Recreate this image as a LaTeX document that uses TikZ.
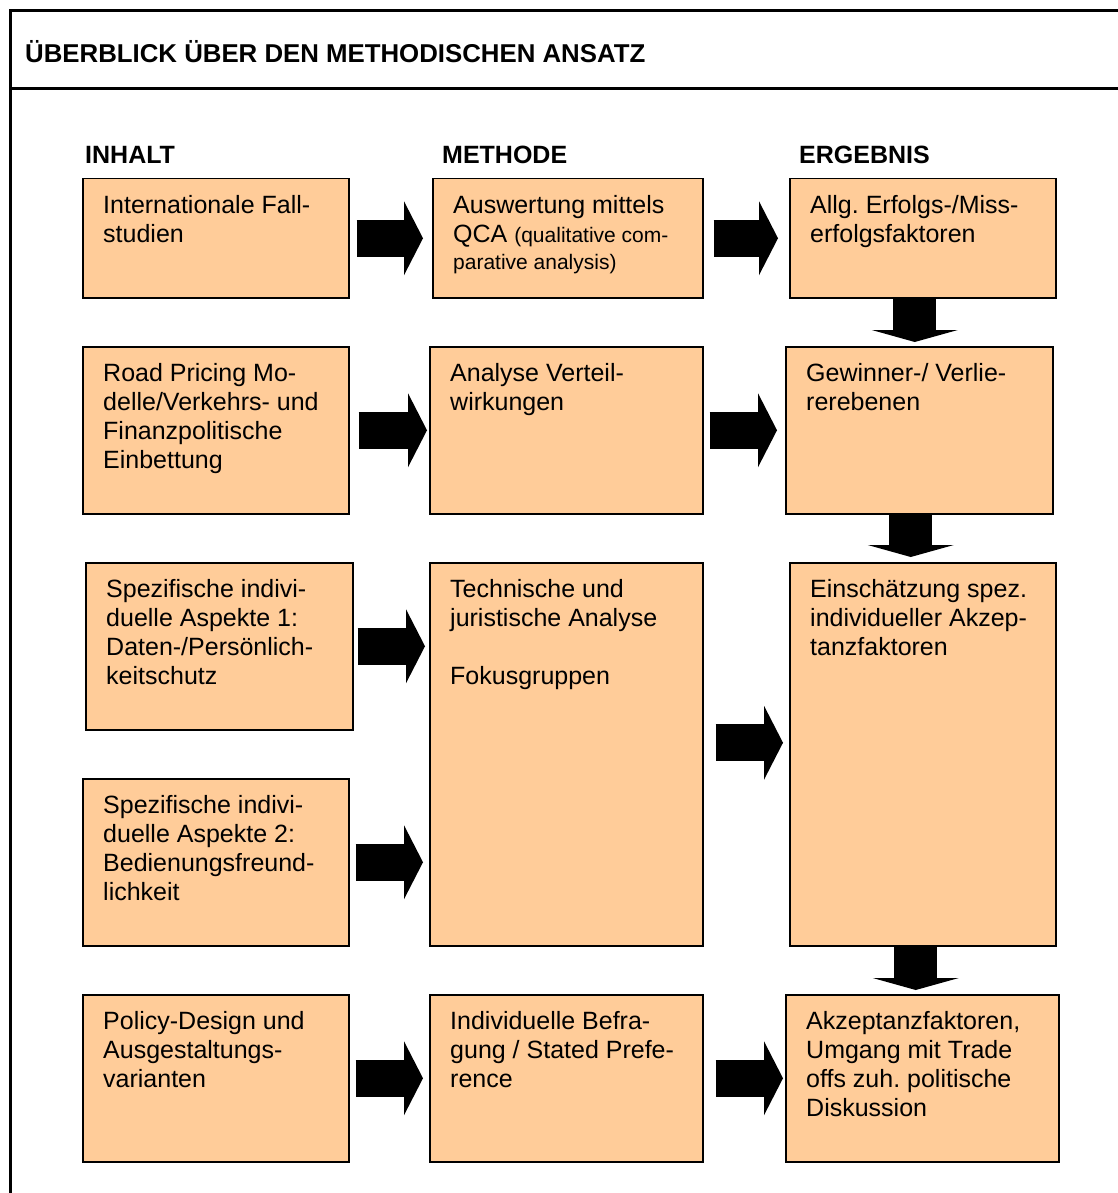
\documentclass[tikz,border=0pt]{standalone}
\usepackage{fontspec}
\setmainfont{Liberation Sans}
\usepackage{xcolor}
\usetikzlibrary{arrows.meta}
\frenchspacing
\definecolor{pfirsich}{RGB}{255,204,153}
\newcommand{\klein}{\fontsize{21}{27}\selectfont}
\newcommand{\kasten}[5]{%
    \node[kasten,minimum width=#3pt,minimum height=#4pt] (#1) at (#2) {};
    \node[kastentext] (#1t) at (#1.north west) {\strut#5};
}
\tikzset{
    kasten/.style={draw=black,line width=1.5pt,fill=pfirsich,anchor=north west,inner sep=0pt},
    kastentext/.style={anchor=north west,xshift=21pt,yshift=-14.7pt,inner sep=0pt,
        align=left,font=\fontsize{25}{29}\selectfont},
    kopf/.style={anchor=base west,inner sep=0pt,font=\fontsize{25}{29}\selectfont\bfseries},
    titel/.style={kopf,font=\fontsize{25.8}{29}\selectfont\bfseries},
    pfeil/.style={line width=37pt,-{Triangle[length=19pt,width=74pt,line width=0pt]}},
    pfeilab/.style={line width=43pt,-{Triangle[length=12pt,width=86pt,line width=0pt]}},
    rahmen/.style={line width=3pt}
}

\begin{document}
\begin{tikzpicture}[x=1pt,y=-1pt]
    \useasboundingbox (0,0) rectangle (1117,1193);
    \draw[rahmen] (1125,11) -- (10.5,11) -- (10.5,1205);
    \draw[rahmen] (10.5,89) -- (1125,89);
    \node[titel] (titel) at (25,63) {ÜBERBLICK ÜBER DEN METHODISCHEN ANSATZ};
    \foreach \spalte/\x [count=\n] in {INHALT/85,METHODE/442,ERGEBNIS/799}
        \node[kopf] (kopf\n) at (\x,164) {\spalte};

    \kasten{i1}{82,178}{266}{119}{Internationale Fall-\\studien}
    \kasten{i2}{82,346}{266}{167}{Road Pricing Mo-\\delle/Verkehrs- und\\Finanzpolitische\\Einbettung}
    \kasten{i3}{85,562}{267}{167}{Spezifische indivi-\\duelle Aspekte 1:\\Daten-/Persönlich-\\keitschutz}
    \kasten{i4}{82,778}{266}{167}{Spezifische indivi-\\duelle Aspekte 2:\\Bedienungsfreund-\\lichkeit}
    \kasten{i5}{82,994}{266}{167}{Policy-Design und\\Ausgestaltungs-\\varianten}

    \kasten{m1}{432,178}{270}{119}{Auswertung mittels\\QCA {\klein(qualitative com-}\\[-2pt]{\klein parative analysis)}}
    \kasten{m2}{429,346}{273}{167}{Analyse Verteil-\\wirkungen}
    \kasten{m3}{429,562}{273}{383}{Technische und\\juristische Analyse\\[29pt]Fokusgruppen}
    \kasten{m4}{429,994}{273}{167}{Individuelle Befra-\\gung / Stated Prefe-\\rence}

    \kasten{e1}{789,178}{266}{119}{Allg. Erfolgs-/Miss-\\erfolgsfaktoren}
    \kasten{e2}{785,346}{267}{167}{Gewinner-/ Verlie-\\rerebenen}
    \kasten{e3}{789,562}{266}{383}{Einschätzung spez.\\individueller Akzep-\\tanzfaktoren}
    \kasten{e4}{785,994}{273}{167}{Akzeptanzfaktoren,\\Umgang mit Trade\\offs zuh. politische\\Diskussion}

    % Pfeile
    \draw[pfeil,shorten <=7pt,shorten >=9pt] (i1) -- (m1);
    \draw[pfeil,shorten <=10pt,shorten >=11pt] (m1) -- (e1);
    \draw[pfeil,shorten <=9pt,shorten >=2pt] (i2) -- (m2);
    \draw[pfeil,shorten <=6pt,shorten >=8pt] (m2) -- (e2);
    \draw[pfeil,shorten <=4pt,shorten >=4pt] (i3) -- (m3.west |- i3);
    \draw[pfeil,shorten <=6pt,shorten >=6pt] (i4) -- (m3.west |- i4);
    \coordinate (m3r) at ([yshift=11.5pt]m3.east);
    \draw[pfeil,shorten <=12pt,shorten >=6pt] (m3r) -- (m3r -| e3.west);
    \draw[pfeil,shorten <=6pt,shorten >=6pt] (i5) -- (m4);
    \draw[pfeil,shorten <=12pt,shorten >=2pt] (m4) -- (e4);

    \coordinate (d1) at ([xshift=-8pt]e1.south);
    \draw[pfeilab,shorten >=4pt] (d1) -- (d1 |- e2.north);
    \coordinate (d2) at ([xshift=-8.5pt]e2.south);
    \draw[pfeilab,shorten >=5pt] (d2) -- (d2 |- e3.north);
    \coordinate (d3) at ([xshift=-7pt]e3.south);
    \draw[pfeilab,shorten >=4pt] (d3) -- (d3 |- e4.north);
\end{tikzpicture}
\end{document}
